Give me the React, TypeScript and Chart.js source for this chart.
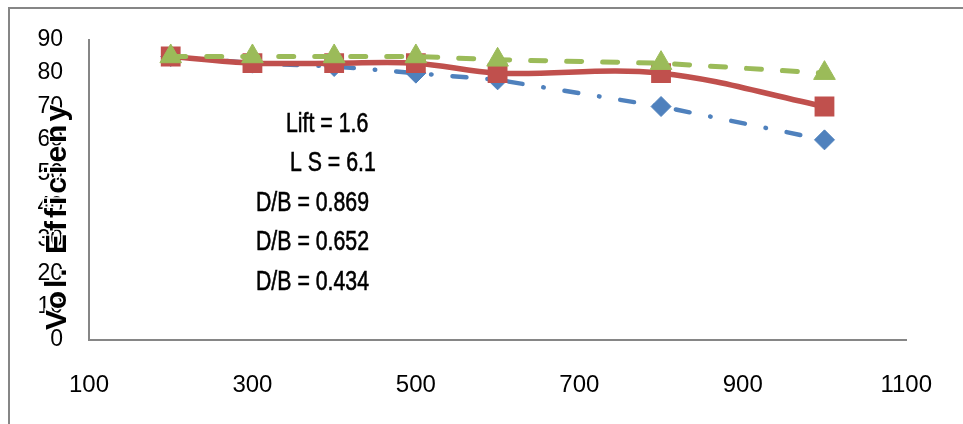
import React, { useEffect, useRef } from "react";
import { Chart, registerables } from "chart.js";

Chart.register(...registerables);

const xValues = [200, 300, 400, 500, 600, 800, 1000];
const seriesDB0869 = [85, 83, 82, 80, 78, 70, 60];
const seriesDB0652 = [85, 83, 83, 83, 80, 80, 70];
const seriesDB0434 = [85, 85, 85, 85, 84, 83, 80];
const xTickValues = [100, 300, 500, 700, 900, 1100];
const yTickValues = [0, 10, 20, 30, 40, 50, 60, 70, 80, 90];
const yTitle = "Vol. Efficieny";
const annotationLines = ["Lift = 1.6", "L S = 6.1", "D/B = 0.869", "D/B = 0.652", "D/B = 0.434"];

const BLUE = "#4F81BD";
const RED = "#C0504D";
const GREEN = "#9BBB59";
const AXIS = "#868686";

const toPoints = (ys: number[]) => xValues.map((x, i) => ({ x, y: ys[i] }));

const overlayPlugin = {
  id: "overlay",
  afterDraw(chart: any) {
    const ctx = chart.ctx as CanvasRenderingContext2D;
    ctx.save();
    // outer frame
    ctx.strokeStyle = AXIS;
    ctx.lineWidth = 2;
    ctx.beginPath();
    ctx.moveTo(9, 424);
    ctx.lineTo(9, 8);
    ctx.lineTo(963, 8);
    ctx.stroke();

    // y title
    ctx.save();
    ctx.translate(58, 216);
    ctx.rotate(-Math.PI / 2);
    ctx.font = "bold 30px 'Liberation Sans', Arial, sans-serif";
    (ctx as any).letterSpacing = "3px";
    ctx.textAlign = "center";
    ctx.textBaseline = "middle";
    ctx.lineWidth = 3;
    ctx.strokeStyle = "#ffffff";
    ctx.strokeText(yTitle, 0, 0);
    ctx.fillStyle = "#000000";
    ctx.fillText(yTitle, 0, 0);
    ctx.restore();

    // annotations
    const xs = [286, 290, 256, 256, 256];
    const ys = [132, 171, 211, 250, 290];
    ctx.font = "28px 'Liberation Sans', Arial, sans-serif";
    ctx.fillStyle = "#000000";
    ctx.strokeStyle = "#000000";
    ctx.lineWidth = 0.6;
    ctx.textAlign = "left";
    ctx.textBaseline = "alphabetic";
    annotationLines.forEach((t, i) => {
      ctx.save();
      ctx.translate(xs[i], ys[i]);
      ctx.scale(0.76, 1);
      ctx.fillText(t, 0, 0);
      ctx.strokeText(t, 0, 0);
      ctx.restore();
    });
    ctx.restore();
  },
};

export default function App() {
  const ref = useRef<HTMLCanvasElement | null>(null);

  useEffect(() => {
    if (!ref.current) return;
    const chart = new Chart(ref.current, {
      type: "line",
      data: {
        datasets: [
          {
            label: "D/B = 0.434",
            data: toPoints(seriesDB0434),
            borderColor: GREEN,
            backgroundColor: GREEN,
            borderWidth: 5,
            borderDash: [15, 21],
            borderCapStyle: "round",
            tension: 0,
            pointStyle: "triangle",
            pointRadius: 12.5,
            pointBorderWidth: 1,
            pointBorderColor: GREEN,
            pointBackgroundColor: GREEN,
            order: 1,
          },
          {
            label: "D/B = 0.652",
            data: toPoints(seriesDB0652),
            borderColor: RED,
            backgroundColor: RED,
            borderWidth: 5.5,
            tension: 0.35,
            pointStyle: "rect",
            pointRadius: 14,
            pointBorderWidth: 0,
            pointBackgroundColor: RED,
            order: 2,
          },
          {
            label: "D/B = 0.869",
            data: toPoints(seriesDB0869),
            borderColor: BLUE,
            backgroundColor: BLUE,
            borderWidth: 4.5,
            borderDash: [14, 21, 0.5, 21],
            borderCapStyle: "round",
            tension: 0,
            pointStyle: "rectRot",
            pointRadius: 10,
            pointBorderWidth: 1,
            pointBorderColor: BLUE,
            pointBackgroundColor: BLUE,
            order: 3,
          },
        ],
      },
      options: {
        animation: false,
        responsive: false,
        maintainAspectRatio: false,
        layout: { padding: { left: 0, top: 36, right: 51, bottom: 0 } },
        plugins: {
          legend: { display: false },
          tooltip: { enabled: false },
          title: { display: false },
        },
        scales: {
          x: {
            type: "linear",
            min: 100,
            max: 1100,
            afterFit(scale: any) {
              scale.height = 84;
            },
            afterBuildTicks(scale: any) {
              scale.ticks = xTickValues.map((v) => ({ value: v }));
            },
            grid: { display: true, drawOnChartArea: false, drawTicks: false },
            border: { display: true, color: AXIS, width: 2 },
            ticks: {
              color: "#000000",
              padding: 31,
              maxRotation: 0,
              autoSkip: false,
              callback: (v: any) => String(v),
              font: { family: "'Liberation Sans', Arial, sans-serif", size: 24 },
            },
          },
          y: {
            type: "linear",
            min: 0,
            max: 90,
            afterFit(scale: any) {
              scale.width = 89;
            },
            afterBuildTicks(scale: any) {
              scale.ticks = yTickValues.map((v) => ({ value: v }));
            },
            grid: { display: true, drawOnChartArea: false, drawTicks: false },
            border: { display: true, color: AXIS, width: 2 },
            ticks: {
              color: "#000000",
              padding: 26,
              autoSkip: false,
              callback: (v: any) => String(v),
              font: { family: "'Liberation Sans', Arial, sans-serif", size: 23 },
            },
          },
        },
      },
      plugins: [overlayPlugin],
    } as any);
    return () => chart.destroy();
  }, []);

  return (
    <div style={{ position: "fixed", left: 0, top: 0, width: 963, height: 424, background: "#ffffff" }}>
      <canvas ref={ref} width={963} height={424} style={{ display: "block" }} />
    </div>
  );
}
